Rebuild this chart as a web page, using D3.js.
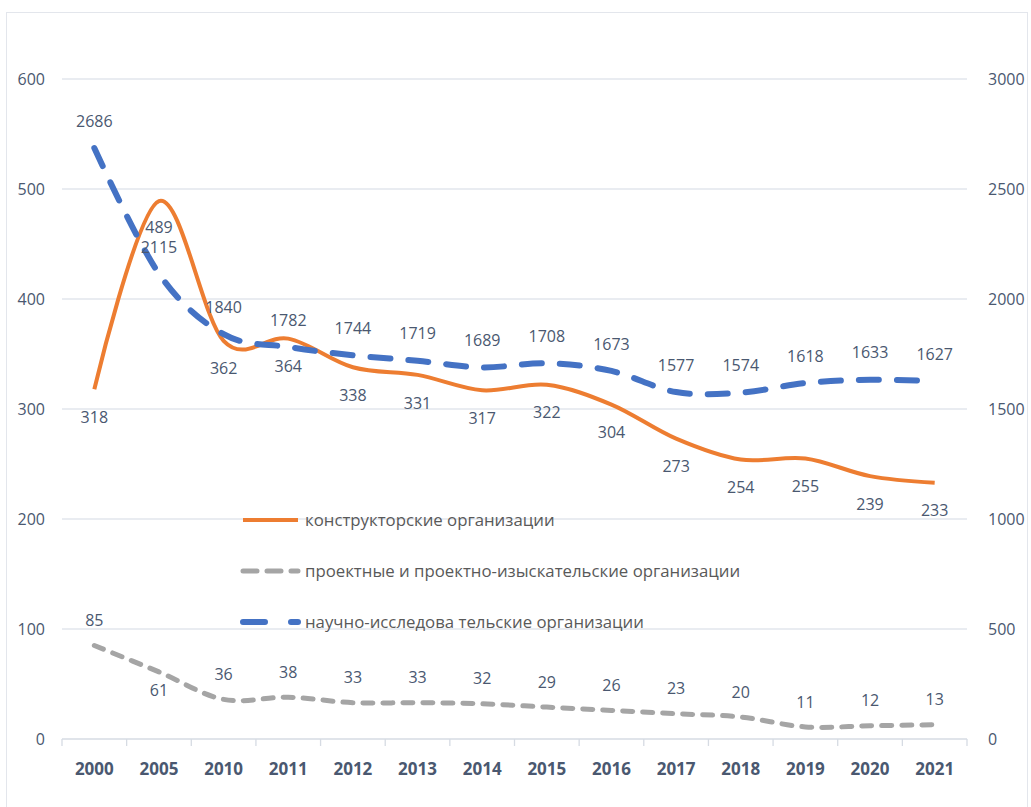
<!DOCTYPE html>
<html>
<head>
<meta charset="utf-8">
<script src="https://cdn.jsdelivr.net/npm/d3@7"></script>
<style>
  body { margin: 0; background: #fff; }
  text { font-family: "Open Sans", sans-serif; }
</style>
</head>
<body>
<div id="chart"></div>
<script>
// data
var years = ["2000", "2005", "2010", "2011", "2012", "2013", "2014", "2015", "2016", "2017", "2018", "2019", "2020", "2021"]
var design = [318, 489, 362, 364, 338, 331, 317, 322, 304, 273, 254, 255, 239, 233]
var project = [85, 61, 36, 38, 33, 33, 32, 29, 26, 23, 20, 11, 12, 13]
var research = [2686, 2115, 1840, 1782, 1744, 1719, 1689, 1708, 1673, 1577, 1574, 1618, 1633, 1627]
var leftTicks = [0, 100, 200, 300, 400, 500, 600]
var rightTicks = [0, 500, 1000, 1500, 2000, 2500, 3000]
var names = ["конструкторские организации", "проектные и проектно-изыскательские организации", "научно-исследова тельские организации"]

var svgWidth = 1031
var svgHeight = 807
var margin = {top: 79, right: 64, bottom: 68, left: 62}
var width = svgWidth - margin.left - margin.right
var height = svgHeight - margin.top - margin.bottom

var textCol = "#4a5870"
var gridCol = "#e2e6ed"

var svg = d3.select("#chart")
  .append("svg")
  .attr("width", svgWidth)
  .attr("height", svgHeight)

// chart frame
svg.append("rect")
  .attr("x", 6.5).attr("y", 12.5)
  .attr("width", 1021).attr("height", 800)
  .attr("fill", "#fff")
  .attr("stroke", "#e3e6ec")

var chartGroup = svg.append("g")
  .attr("transform", `translate(${margin.left}, ${margin.top})`)

// scales
var xScale = d3.scaleBand().domain(years).range([0, width])
var yLeft = d3.scaleLinear().domain([0, 600]).range([height, 0])
var yRight = d3.scaleLinear().domain([0, 3000]).range([height, 0])
var cx = d => xScale(d) + xScale.bandwidth() / 2

// gridlines
chartGroup.append("g")
  .selectAll("line")
  .data(leftTicks.slice(1))
  .enter()
  .append("line")
  .attr("x1", 0).attr("x2", width)
  .attr("y1", d => yLeft(d)).attr("y2", d => yLeft(d))
  .attr("stroke", gridCol)
  .attr("stroke-width", 1.3)

// x axis
var bottomAxis = chartGroup.append("g")
  .attr("transform", `translate(0, ${height})`)
bottomAxis.append("line")
  .attr("x1", 0).attr("x2", width)
  .attr("stroke", "#d6dbe3").attr("stroke-width", 1.3)
bottomAxis.selectAll(".tk")
  .data(years.concat(["end"]))
  .enter()
  .append("line")
  .attr("x1", (d, i) => i * xScale.bandwidth())
  .attr("x2", (d, i) => i * xScale.bandwidth())
  .attr("y1", 0).attr("y2", 7)
  .attr("stroke", "#d6dbe3").attr("stroke-width", 1.3)
bottomAxis.selectAll("text")
  .data(years)
  .enter()
  .append("text")
  .attr("x", d => cx(d))
  .attr("y", 36)
  .attr("text-anchor", "middle")
  .attr("font-size", 17)
  .attr("font-weight", "bold")
  .attr("fill", textCol)
  .text(d => d)

// y axes labels
chartGroup.append("g")
  .selectAll("text")
  .data(leftTicks)
  .enter()
  .append("text")
  .attr("x", -17)
  .attr("y", d => yLeft(d))
  .attr("dy", "0.35em")
  .attr("text-anchor", "end")
  .attr("font-size", 16)
  .attr("fill", textCol)
  .text(d => d)

chartGroup.append("g")
  .selectAll("text")
  .data(rightTicks)
  .enter()
  .append("text")
  .attr("x", width + 21)
  .attr("y", d => yRight(d))
  .attr("dy", "0.35em")
  .attr("text-anchor", "start")
  .attr("font-size", 16)
  .attr("fill", textCol)
  .text(d => d)

// lines
var curve = d3.curveCardinal.tension(0)
var lineLeft = d3.line().x((d, i) => cx(years[i])).y(d => yLeft(d)).curve(curve)
var lineRight = d3.line().x((d, i) => cx(years[i])).y(d => yRight(d)).curve(curve)

chartGroup.append("path")
  .attr("d", lineLeft(project))
  .attr("fill", "none")
  .attr("stroke", "#a5a5a5")
  .attr("stroke-width", 5)
  .attr("stroke-linecap", "round")
  .attr("stroke-dasharray", "10 10")

chartGroup.append("path")
  .attr("d", lineLeft(design))
  .attr("fill", "none")
  .attr("stroke", "#ed7d31")
  .attr("stroke-width", 4)

chartGroup.append("path")
  .attr("d", lineRight(research))
  .attr("fill", "none")
  .attr("stroke", "#4472c4")
  .attr("stroke-width", 6)
  .attr("stroke-linecap", "round")
  .attr("stroke-dasharray", "20 18")

// data labels
function labels(values, scale, offset) {
  chartGroup.append("g")
    .selectAll("text")
    .data(values)
    .enter()
    .append("text")
    .attr("x", (d, i) => cx(years[i]))
    .attr("y", (d, i) => scale(d) + offset(i))
    .attr("dy", "0.35em")
    .attr("text-anchor", "middle")
    .attr("font-size", 16)
    .attr("fill", textCol)
    .text(d => d)
}
labels(design, yLeft, i => i == 1 ? 26 : 28)
labels(research, yRight, i => i == 1 ? -26 : -27)
labels(project, yLeft, i => i == 1 ? 18 : -25)

// legend
var legend = chartGroup.append("g")
  .attr("transform", `translate(${240 - margin.left}, ${520 - margin.top})`)
var styles = [
  {c: "#ed7d31", w: 4, dash: null, cap: "butt"},
  {c: "#a5a5a5", w: 5, dash: "14 10", cap: "round"},
  {c: "#4472c4", w: 6, dash: "22 26", cap: "round"}
]
names.forEach(function(n, i) {
  var row = legend.append("g").attr("transform", `translate(0, ${i * 51})`)
  row.append("line")
    .attr("x1", 3).attr("x2", 58)
    .attr("stroke", styles[i].c)
    .attr("stroke-width", styles[i].w)
    .attr("stroke-linecap", styles[i].cap)
    .attr("stroke-dasharray", styles[i].dash)
  row.append("text")
    .attr("x", 65)
    .attr("dy", "0.35em")
    .attr("font-size", 16.8)
    .attr("fill", "#595959")
    .text(n)
})
</script>
</body>
</html>
